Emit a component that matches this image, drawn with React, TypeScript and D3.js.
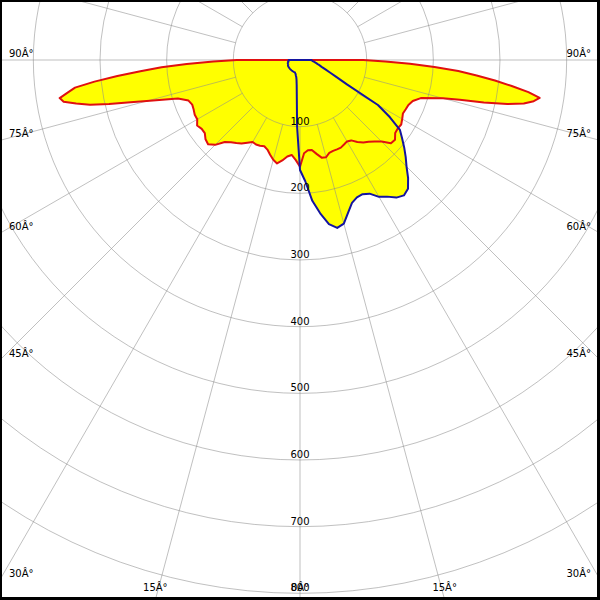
import React from "react";
import * as d3 from "d3";

// Angles (degrees from nadir) shared by all half-planes
const angles = [
  0, 2.5, 5, 7.5, 10, 12.5, 15, 17.5, 20, 22.5, 25, 27.5, 30, 32.5, 35, 37.5,
  40, 42.5, 45, 47.5, 50, 52.5, 55, 57.5, 60, 62.5, 65, 67.5, 70, 72.5, 75,
  76, 77, 78, 79, 80, 81, 82, 83, 84, 85, 86, 87, 88, 89, 90,
];

// Red curve (C0 / C180 plane)
const redRight = [
  160, 140, 136, 136, 143, 150, 151, 146, 145, 145, 145, 143, 141, 143, 150, 156,
  160, 166, 173, 185, 186, 180, 179, 180, 177, 174, 175, 176, 180, 190, 222,
  247, 283, 318, 342, 356, 364, 346, 320, 294, 266, 238, 202, 165, 128, 95,
];
const redLeft = [
  160, 150, 143, 146, 153, 159, 155, 149, 143, 140, 142, 143, 142, 147, 153, 157,
  161, 167, 180, 187, 185, 180, 180, 183, 178, 178, 176, 175, 178, 192, 238,
  262, 294, 322, 342, 360, 365, 352, 340, 310, 275, 240, 208, 170, 130, 95,
];

// Blue curve (C90 / C270 plane)
const blueRight = [
  165, 182, 212, 232, 250, 258, 254, 240, 228, 223, 222, 226, 237, 243, 252, 256,
  252, 240, 226, 215, 204, 193, 183, 160, 135, 80, 60, 48, 40, 34, 30,
  29, 27, 26, 25, 24, 23, 22, 21, 20, 19, 19, 18, 18, 17, 17,
];
const blueLeft = [
  165, 100, 55, 38, 30, 26, 24, 22, 21, 20, 20, 20, 20, 20, 20, 20,
  20, 20, 20, 20, 20, 20, 20, 20, 20, 20, 20, 19, 19, 19, 19,
  19, 18, 18, 18, 18, 18, 18, 18, 18, 17, 17, 17, 17, 17, 17,
];

const radialTicks = [100, 200, 300, 400, 500, 600, 700, 800];
const angleLabelsSide = [90, 75, 60, 45, 30];
const angleLabelsBottom = [15, 0];
const gridAngles = d3.range(0, 360, 15);

const W = 600;
const H = 600;
const cx = 300;
const cy = 60;
const rScale = d3.scaleLinear().domain([0, 800]).range([0, 533.33]);

type P = { theta: number; v: number };

function buildPoints(left: number[], right: number[]): P[] {
  const pts: P[] = [];
  for (let i = angles.length - 1; i >= 1; i--) pts.push({ theta: -angles[i], v: left[i] });
  for (let i = 0; i < angles.length; i++) pts.push({ theta: angles[i], v: right[i] });
  return pts;
}

const radial = d3
  .lineRadial<P>()
  .angle((d) => Math.PI - (d.theta * Math.PI) / 180)
  .radius((d) => rScale(d.v))
  .curve(d3.curveLinearClosed);

export default function App() {
  const redPath = radial(buildPoints(redLeft, redRight)) || "";
  const bluePath = radial(buildPoints(blueLeft, blueRight)) || "";
  const fontProps = { fontFamily: "DejaVu Sans", fontSize: 10, fill: "#000" };
  const gridStroke = { stroke: "#8c8c8c", strokeOpacity: 0.55, strokeWidth: 1, fill: "none" };

  return (
    <div style={{ position: "absolute", left: 0, top: 0 }}>
      <svg width={W} height={H} style={{ display: "block", background: "#fff" }}>
        <rect x={0} y={0} width={W} height={H} fill="#fff" />
        <g transform={`translate(${cx},${cy})`}>
          <path d={redPath} fill="#ffff00" stroke="none" />
          <path d={bluePath} fill="#ffff00" stroke="none" />
          {radialTicks.map((t) => (
            <circle key={t} r={rScale(t)} {...gridStroke} />
          ))}
          {gridAngles.map((a) => {
            const rad = (a * Math.PI) / 180;
            const r0 = rScale(100);
            const r1 = rScale(1300);
            return (
              <line
                key={a}
                x1={r0 * Math.sin(rad)}
                y1={r0 * Math.cos(rad)}
                x2={r1 * Math.sin(rad)}
                y2={r1 * Math.cos(rad)}
                {...gridStroke}
              />
            );
          })}
          <path d={redPath} fill="none" stroke="#e01010" strokeWidth={2} strokeLinejoin="round" />
          <path d={bluePath} fill="none" stroke="#1414a0" strokeWidth={2} strokeLinejoin="round" />
          {radialTicks.map((t) => (
            <text key={t} x={0} y={rScale(t) - 2} textAnchor="middle" {...fontProps}>
              {t}
            </text>
          ))}
        </g>
        {angleLabelsSide.map((a) => {
          const yInt = a === 90 ? cy : cy + cx / Math.tan((a * Math.PI) / 180);
          return (
            <g key={a}>
              <text x={9} y={yInt - 3} {...fontProps}>{`${a}Â°`}</text>
              <text x={591} y={yInt - 3} textAnchor="end" {...fontProps}>{`${a}Â°`}</text>
            </g>
          );
        })}
        {angleLabelsBottom.map((a) => {
          const dx = (H - cy) * Math.tan((a * Math.PI) / 180);
          return (
            <g key={a}>
              <text x={cx - dx} y={591} textAnchor="middle" {...fontProps}>{`${a}Â°`}</text>
              {a !== 0 && (
                <text x={cx + dx} y={591} textAnchor="middle" {...fontProps}>{`${a}Â°`}</text>
              )}
            </g>
          );
        })}
        <rect x={0} y={0} width={W} height={2} fill="#000" />
        <rect x={0} y={0} width={2} height={H} fill="#000" />
        <rect x={0} y={H - 3} width={W} height={3} fill="#000" />
        <rect x={W - 3} y={0} width={3} height={H} fill="#000" />
      </svg>
    </div>
  );
}
